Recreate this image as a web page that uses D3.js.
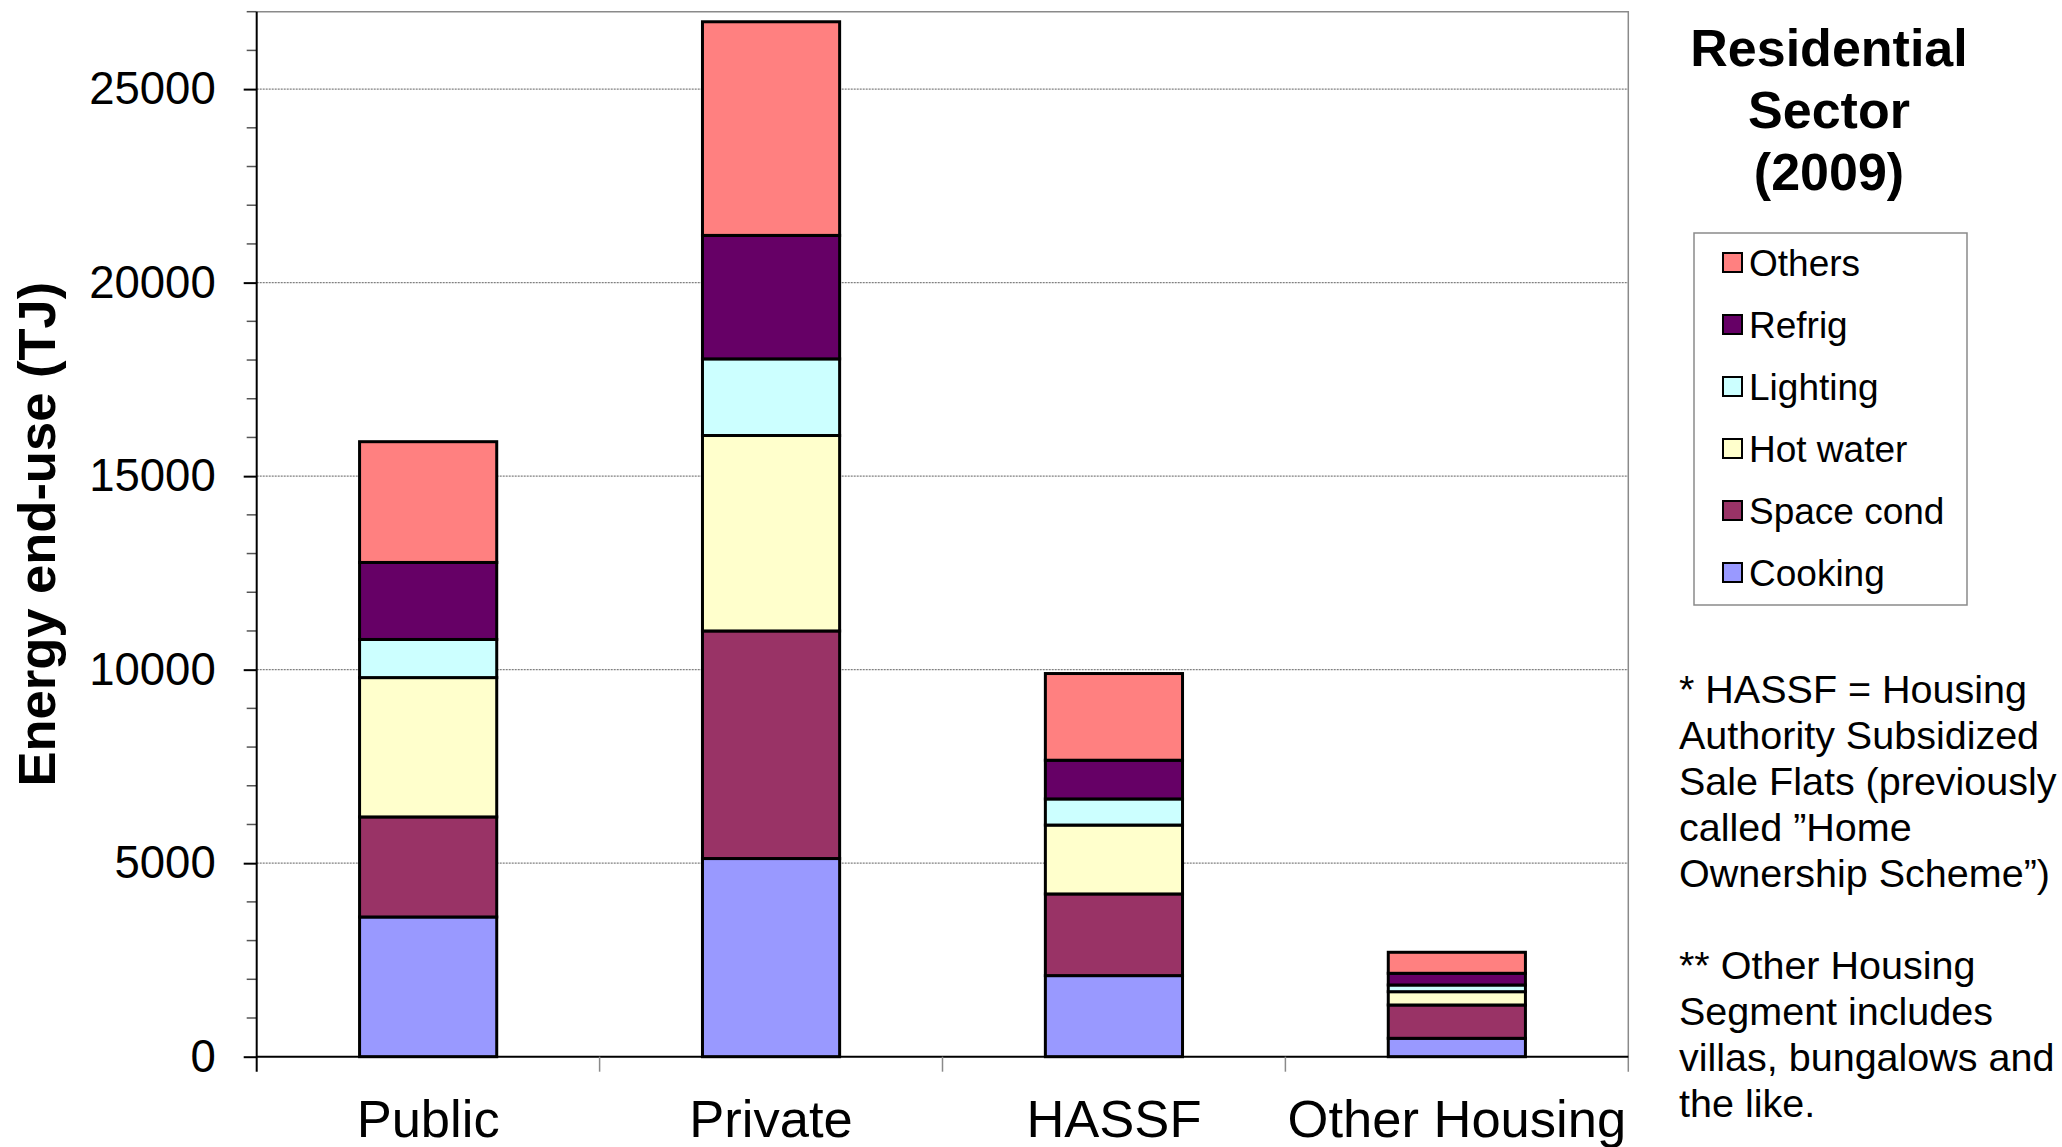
<!DOCTYPE html>
<html>
<head>
<meta charset="utf-8">
<script src="https://cdn.jsdelivr.net/npm/d3@7"></script>
<style>
  html, body { margin: 0; padding: 0; background: #fff; }
  svg { display: block; font-family: "Liberation Sans", Arial, Helvetica, sans-serif; }
</style>
</head>
<body>
<svg id="chart" width="2062" height="1147"></svg>
<script>
// ---- data ----
const categories = ["Public", "Private", "HASSF", "Other Housing"];
const seriesNames = ["Cooking", "Space cond", "Hot water", "Lighting", "Refrig", "Others"];
const cooking   = [3610, 5120, 2095, 475];
const spaceCond = [2585, 5880, 2110, 861];
const hotWater  = [3600, 5050, 1780, 344];
const lighting  = [985, 1980, 675, 173];
const refrig    = [1990, 3190, 1000, 302];
const others    = [3120, 5520, 2240, 543];
const seriesColors = ["#9999FF", "#993366", "#FFFFCC", "#CCFFFF", "#660066", "#FF8080"];
const yMax = 27000;
const majorTicks = [0, 5000, 10000, 15000, 20000, 25000];
const titleLines = ["Residential", "Sector", "(2009)"];
const noteLines = [
  "* HASSF = Housing",
  "Authority Subsidized",
  "Sale Flats (previously",
  "called \u201DHome",
  "Ownership Scheme\u201D)",
  "",
  "** Other Housing",
  "Segment includes",
  "villas, bungalows and",
  "the like."
];
const yLabel = "Energy end-use (TJ)";

// ---- build table ----
const seriesValues = [cooking, spaceCond, hotWater, lighting, refrig, others];
const table = categories.map((c, i) => {
  const row = { category: c };
  seriesNames.forEach((s, j) => { row[s] = seriesValues[j][i]; });
  return row;
});

const svg = d3.select("#chart");
const pLeft = 256.7, pRight = 1628.3, pTop = 11.7, pBottom = 1056.7;

const x = d3.scaleBand().domain(categories).range([pLeft, pRight]).paddingInner(0.6).paddingOuter(0.3);
const y = d3.scaleLinear().domain([0, yMax]).range([pBottom, pTop]);
const color = d3.scaleOrdinal().domain(seriesNames).range(seriesColors);

// gridlines
svg.append("g").selectAll("line")
  .data(majorTicks.filter(d => d > 0))
  .join("line")
  .attr("x1", pLeft).attr("x2", pRight)
  .attr("y1", d => y(d)).attr("y2", d => y(d))
  .attr("stroke", "#808080").attr("stroke-width", 1.2)
  .attr("stroke-dasharray", "2,1");

// plot border top & right
svg.append("path")
  .attr("d", `M${pLeft},${pTop}H${pRight}V${pBottom + 15}`)
  .attr("fill", "none").attr("stroke", "#8a8a8a").attr("stroke-width", 1.5);

// stacked bars
const stack = d3.stack().keys(seriesNames);
const stacked = stack(table);
svg.append("g").selectAll("g")
  .data(stacked)
  .join("g")
  .attr("fill", d => color(d.key))
  .selectAll("rect")
  .data(d => d)
  .join("rect")
  .attr("x", d => x(d.data.category))
  .attr("width", x.bandwidth())
  .attr("y", d => y(d[1]))
  .attr("height", d => y(d[0]) - y(d[1]))
  .attr("stroke", "#000").attr("stroke-width", 3);

// y axis (minor ticks)
const minorTicks = d3.range(0, yMax + 1, 1000).filter(v => v % 5000 !== 0);
svg.append("g").selectAll("line")
  .data(minorTicks)
  .join("line")
  .attr("x1", pLeft - 10).attr("x2", pLeft)
  .attr("y1", d => y(d)).attr("y2", d => y(d))
  .attr("stroke", "#555").attr("stroke-width", 1.5);

const yAxis = d3.axisLeft(y).tickValues(majorTicks).tickSize(13).tickPadding(28).tickFormat(d3.format("d"));
const yg = svg.append("g").attr("transform", `translate(${pLeft},0)`).call(yAxis);
yg.select(".domain").attr("stroke", "#000").attr("stroke-width", 2)
  .attr("d", `M0,${pTop}V${pBottom + 15}`);
yg.selectAll(".tick line").attr("stroke", "#000").attr("stroke-width", 2);
yg.selectAll(".tick text").attr("font-size", 45.5).attr("fill", "#000")
  .attr("font-family", "Liberation Sans, Arial, sans-serif");

// x axis
svg.append("line").attr("x1", pLeft).attr("x2", pRight).attr("y1", pBottom).attr("y2", pBottom)
  .attr("stroke", "#000").attr("stroke-width", 2);
svg.append("g").selectAll("line")
  .data(categories.slice(1))
  .join("line")
  .attr("x1", c => x(c) - (x.step() - x.bandwidth()) / 2)
  .attr("x2", c => x(c) - (x.step() - x.bandwidth()) / 2)
  .attr("y1", pBottom).attr("y2", pBottom + 15)
  .attr("stroke", "#8a8a8a").attr("stroke-width", 1.5);
svg.append("g").selectAll("text")
  .data(categories)
  .join("text")
  .attr("x", c => x(c) + x.bandwidth() / 2)
  .attr("y", 1137)
  .attr("text-anchor", "middle")
  .attr("font-size", 52.5)
  .attr("fill", "#000")
  .text(c => c);

// y label
svg.append("text")
  .attr("transform", `translate(55,${(pTop + pBottom) / 2}) rotate(-90)`)
  .attr("text-anchor", "middle")
  .attr("font-size", 52.5).attr("font-weight", "bold")
  .text(yLabel);

// title
svg.append("g").selectAll("text")
  .data(titleLines)
  .join("text")
  .attr("x", 1829)
  .attr("y", (d, i) => 66 + i * 62)
  .attr("text-anchor", "middle")
  .attr("font-size", 52).attr("font-weight", "bold")
  .text(d => d);

// legend
const legendItems = seriesNames.slice().reverse();
svg.append("rect")
  .attr("x", 1694).attr("y", 233).attr("width", 273).attr("height", 372)
  .attr("fill", "#fff").attr("stroke", "#8a8a8a").attr("stroke-width", 1.5);
const lg = svg.append("g").selectAll("g")
  .data(legendItems)
  .join("g")
  .attr("transform", (d, i) => `translate(0,${263 + i * 62})`);
lg.append("rect")
  .attr("x", 1723).attr("y", -10).attr("width", 19).attr("height", 19)
  .attr("fill", d => color(d)).attr("stroke", "#000").attr("stroke-width", 2);
lg.append("text")
  .attr("x", 1749).attr("y", 0).attr("dy", "0.35em")
  .attr("font-size", 37).attr("fill", "#000")
  .text(d => d);

// notes
svg.append("g").selectAll("text")
  .data(noteLines)
  .join("text")
  .attr("x", 1679)
  .attr("y", (d, i) => 703 + i * 46)
  .attr("font-size", 39.5).attr("fill", "#000")
  .text(d => d);
</script>
</body>
</html>
